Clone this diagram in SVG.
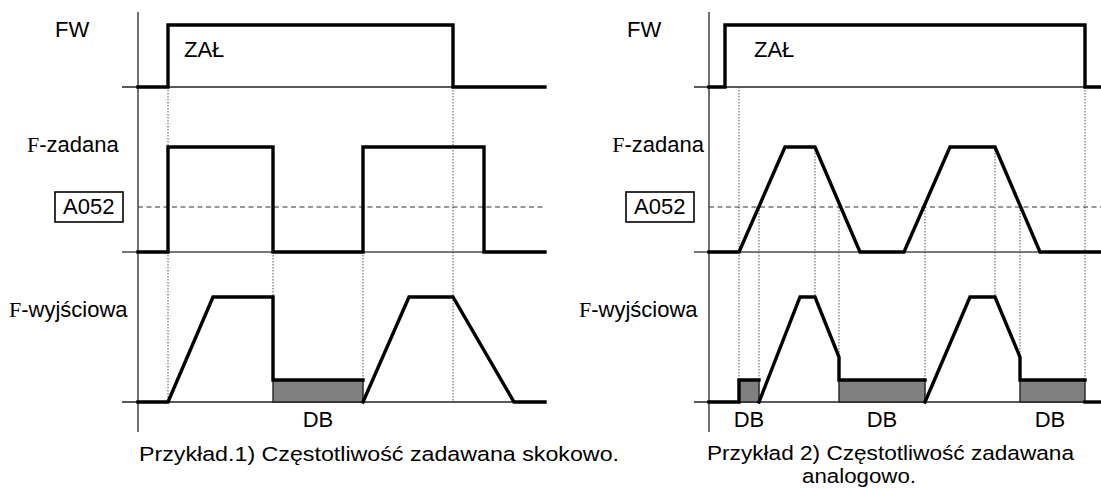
<svg xmlns="http://www.w3.org/2000/svg" width="1101" height="489" viewBox="0 0 1101 489">
<style>
.bg{fill:#ffffff}
.axis{stroke:#333;stroke-width:1.4;fill:none}
.base{stroke:#222;stroke-width:1.4;fill:none}
.baseg{stroke:#777;stroke-width:1.8;fill:none}
.sig{stroke:#000;stroke-width:3.4;fill:none;stroke-linejoin:miter;stroke-linecap:square}
.dash{stroke:#333;stroke-width:1.2;stroke-dasharray:5 3.5;fill:none}
.dot{stroke:#555;stroke-width:1;stroke-dasharray:1.5 1.5;fill:none}
.db{fill:#808080;stroke:#222;stroke-width:1.4}
.box{fill:#fff;stroke:#000;stroke-width:1.6}
.t{font-family:"Liberation Sans",Arial,sans-serif;font-size:22px;fill:#000}
.cap{font-family:"Liberation Sans",Arial,sans-serif;font-size:20.5px;fill:#000}
.serif{font-family:"Liberation Serif","Times New Roman",serif}
</style>
<rect class="bg" x="0" y="0" width="1101" height="489"/>

<g id="example1">
  <g id="axes1">
    <line class="axis" x1="138" y1="12" x2="138" y2="432"/>
    <line class="base" x1="122" y1="87" x2="545" y2="87"/>
    <line class="baseg" x1="122" y1="252" x2="545" y2="252"/>
    <line class="base" x1="122" y1="402" x2="545" y2="402"/>
    <line class="dash" x1="138" y1="207" x2="545" y2="207"/>
  </g>
  <g id="guides1">
    <line class="dot" x1="168" y1="87" x2="168" y2="402"/>
    <line class="dot" x1="273" y1="252" x2="273" y2="297"/>
    <line class="dot" x1="363" y1="252" x2="363" y2="402"/>
    <line class="dot" x1="453" y1="87" x2="453" y2="402"/>
  </g>
  <g id="db1">
    <rect class="db" x="273" y="380" width="90" height="22"/>
  </g>
  <g id="signals1">
    <path class="sig" d="M138,87 H168 V25 H453 V87 H545"/>
    <path class="sig" d="M138,252 H168 V147 H273 V252 H363 V147 H484 V252 H545"/>
    <path class="sig" d="M138,402 H168 L213,297 H273 V380 H363"/>
    <path class="sig" d="M363,402 L409,297 H453 L514,402 H545"/>
  </g>
  <g id="labels1">
    <text class="t" x="55" y="37">FW</text>
    <text class="t" x="184" y="57">ZAŁ</text>
    <text class="t" x="27" y="152"><tspan class="serif">F</tspan>-zadana</text>
    <g id="a052-1">
      <rect class="box" x="55" y="192" width="68" height="30"/>
      <text class="t" x="63" y="214">A052</text>
    </g>
    <text class="t" x="9" y="317"><tspan class="serif">F</tspan>-wyjściowa</text>
    <text class="t" x="318" y="427" text-anchor="middle">DB</text>
    <text class="cap" x="139" y="461" textLength="480" lengthAdjust="spacingAndGlyphs">Przykład.1) Częstotliwość zadawana skokowo.</text>
  </g>
</g>

<g id="example2">
  <g id="axes2">
    <line class="axis" x1="709" y1="12" x2="709" y2="432"/>
    <line class="base" x1="694" y1="87" x2="1101" y2="87"/>
    <line class="baseg" x1="694" y1="252" x2="1101" y2="252"/>
    <line class="base" x1="694" y1="402" x2="1101" y2="402"/>
    <line class="dash" x1="709" y1="207" x2="1101" y2="207"/>
  </g>
  <g id="guides2">
    <line class="dot" x1="739" y1="87" x2="739" y2="380"/>
    <line class="dot" x1="759" y1="207" x2="759" y2="402"/>
    <line class="dot" x1="815" y1="147" x2="815" y2="297"/>
    <line class="dot" x1="839" y1="207" x2="839" y2="357"/>
    <line class="dot" x1="925" y1="207" x2="925" y2="402"/>
    <line class="dot" x1="995" y1="147" x2="995" y2="297"/>
    <line class="dot" x1="1020" y1="207" x2="1020" y2="357"/>
    <line class="dot" x1="1085" y1="87" x2="1085" y2="380"/>
  </g>
  <g id="db2">
    <rect class="db" x="739" y="380" width="20" height="22"/>
    <rect class="db" x="839" y="380" width="86" height="22"/>
    <rect class="db" x="1020" y="380" width="65" height="22"/>
  </g>
  <g id="signals2">
    <path class="sig" d="M709,87 H725 V25 H1085 V87 H1101"/>
    <path class="sig" d="M709,252 H739 L785,147 H815 L860,252 H904 L950,147 H995 L1040,252 H1101"/>
    <path class="sig" d="M709,402 H739 V380 H759"/>
    <path class="sig" d="M759,402 L800,297 H815 L839,357 V380 H925"/>
    <path class="sig" d="M925,402 L970,297 H995 L1020,357 V380 H1085"/>
    <path class="sig" d="M1085,402 H1101"/>
  </g>
  <g id="labels2">
    <text class="t" x="627" y="37">FW</text>
    <text class="t" x="754" y="57">ZAŁ</text>
    <text class="t" x="704" y="152" text-anchor="end"><tspan class="serif">F</tspan>-zadana</text>
    <g id="a052-2">
      <rect class="box" x="626" y="192" width="68" height="30"/>
      <text class="t" x="634" y="214">A052</text>
    </g>
    <text class="t" x="579" y="317"><tspan class="serif">F</tspan>-wyjściowa</text>
    <text class="t" x="749" y="427" text-anchor="middle">DB</text>
    <text class="t" x="882" y="427" text-anchor="middle">DB</text>
    <text class="t" x="1050" y="427" text-anchor="middle">DB</text>
    <text class="cap" x="707" y="460" textLength="367" lengthAdjust="spacingAndGlyphs">Przykład 2) Częstotliwość zadawana</text>
    <text class="cap" x="802" y="483" textLength="114" lengthAdjust="spacingAndGlyphs">analogowo.</text>
  </g>
</g>
</svg>
